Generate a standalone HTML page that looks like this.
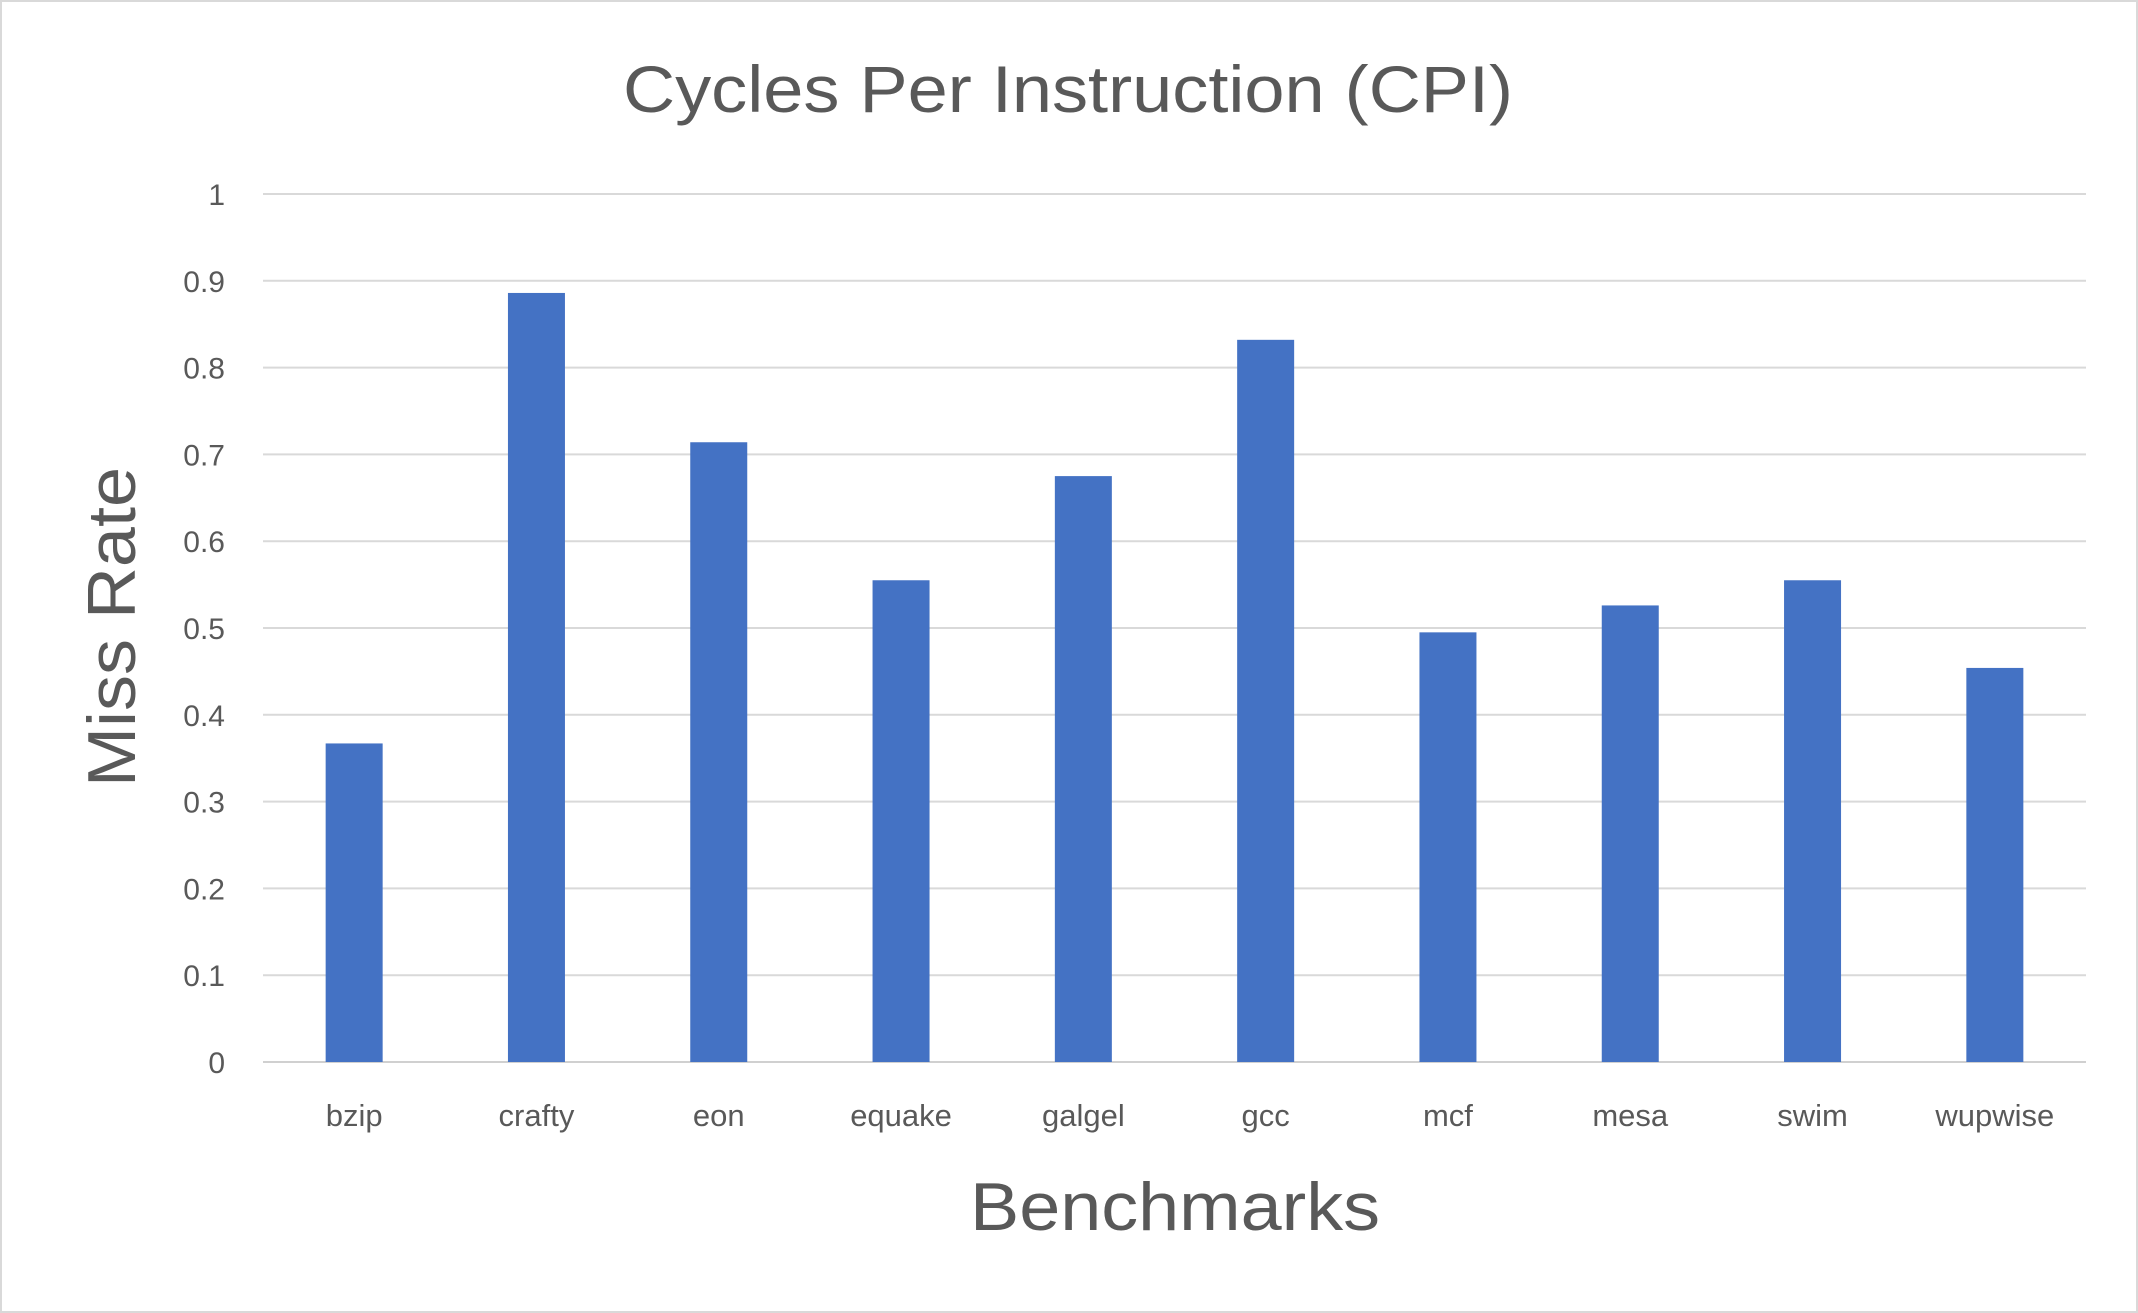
<!DOCTYPE html>
<html><head><meta charset="utf-8"><style>
html,body{margin:0;padding:0;background:#fff;}
svg{display:block;font-family:"Liberation Sans",sans-serif;}
</style></head><body>
<svg id="chart" width="2138" height="1313" viewBox="0 0 2138 1313" xmlns="http://www.w3.org/2000/svg">
<rect x="1" y="1" width="2136" height="1311" fill="#fff" stroke="#d9d9d9" stroke-width="2"/>
<text x="1068" y="112" text-anchor="middle" font-size="66" fill="#595959" textLength="890" lengthAdjust="spacingAndGlyphs">Cycles Per Instruction (CPI)</text>
<g id="grid"></g>
<g id="yticks"></g>
<g id="bars"></g>
<g id="xticks"></g>
<text x="1175" y="1230" text-anchor="middle" font-size="68" fill="#595959" textLength="410" lengthAdjust="spacingAndGlyphs">Benchmarks</text>
<text transform="translate(135,627) rotate(-90)" text-anchor="middle" font-size="68" fill="#595959" textLength="320" lengthAdjust="spacingAndGlyphs">Miss Rate</text>
</svg>
<script>
const categories = ["bzip","crafty","eon","equake","galgel","gcc","mcf","mesa","swim","wupwise"];
const values = [0.367,0.886,0.714,0.555,0.675,0.832,0.495,0.526,0.555,0.454];
const yTicks = [0,0.1,0.2,0.3,0.4,0.5,0.6,0.7,0.8,0.9,1];
const yTickLabels = ["0","0.1","0.2","0.3","0.4","0.5","0.6","0.7","0.8","0.9","1"];

const NS = "http://www.w3.org/2000/svg";
const X0 = 263, X1 = 2086, Y0 = 1062, Y1 = 194, YMAX = 1;
function yScale(v){ return Y0 - (v / YMAX) * (Y0 - Y1); }
const band = (X1 - X0) / categories.length;
function xCenter(i){ return X0 + band * (i + 0.5); }
const barW = 57;

const grid = document.getElementById('grid');
const yt = document.getElementById('yticks');
yTicks.forEach((t, i) => {
  const y = yScale(t);
  const l = document.createElementNS(NS, 'line');
  
  
  l.setAttribute('x1', X0); l.setAttribute('x2', X1);
  l.setAttribute('y1', y); l.setAttribute('y2', y);
  l.setAttribute('stroke', t === 0 ? '#d0d0d0' : '#d9d9d9');
  l.setAttribute('stroke-width', 2);
  grid.appendChild(l);
  const tx = document.createElementNS(NS, 'text');
  
  
  tx.setAttribute('x', 225); tx.setAttribute('y', y + 11);
  tx.setAttribute('text-anchor', 'end');
  tx.setAttribute('font-size', '30');
  tx.setAttribute('fill', '#595959');
  tx.textContent = yTickLabels[i];
  yt.appendChild(tx);
});

const bars = document.getElementById('bars');
const xt = document.getElementById('xticks');
categories.forEach((c, i) => {
  const cx = xCenter(i);
  const r = document.createElementNS(NS, 'rect');
  
  
  r.setAttribute('x', cx - barW / 2);
  r.setAttribute('y', yScale(values[i]));
  r.setAttribute('width', barW);
  r.setAttribute('height', Y0 - yScale(values[i]));
  r.setAttribute('fill', '#4472c4');
  bars.appendChild(r);
  const tx = document.createElementNS(NS, 'text');
  
  
  tx.setAttribute('x', cx); tx.setAttribute('y', 1126);
  tx.setAttribute('text-anchor', 'middle');
  tx.setAttribute('font-size', '31');
  tx.setAttribute('fill', '#595959');
  tx.textContent = c;
  xt.appendChild(tx);
});
</script>
</body></html>
